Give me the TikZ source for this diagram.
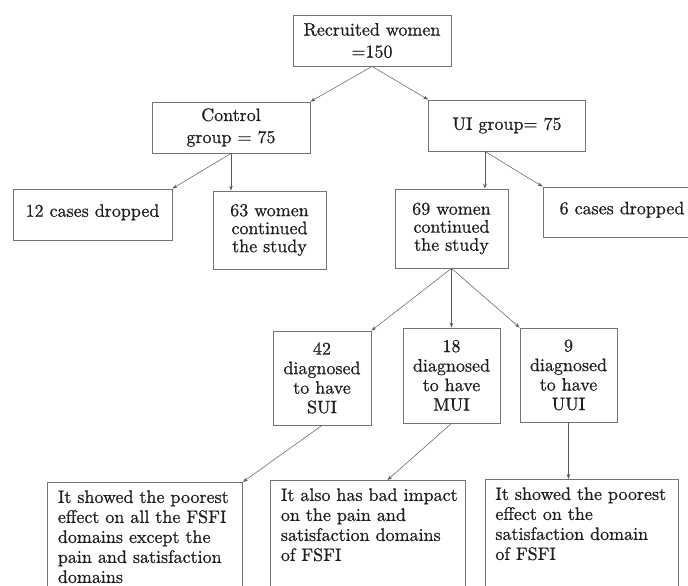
\documentclass[tikz,border=0pt]{standalone}
\usepackage{fontspec}
\setmainfont{lmroman10-regular.otf}[FakeBold=0.8]
\usetikzlibrary{arrows.meta,calc}
\hyphenpenalty=10000
\exhyphenpenalty=10000
\hfuzz=20pt
\definecolor{boxline}{gray}{0.45}
\definecolor{arrowline}{gray}{0.35}
\definecolor{txt}{gray}{0.12}
\tikzset{
  box/.style={draw=boxline, line width=0.8pt, inner sep=0pt, align=center, text=txt,
    font=\fontsize{18}{22}\selectfont},
  tight/.style={font=\fontsize{18}{18}\selectfont},
  mid/.style={font=\fontsize{18}{19.5}\selectfont},
  note/.style={draw=boxline, line width=0.8pt, anchor=north west, align=left, text=txt,
    font=\fontsize{18}{20}\selectfont, inner xsep=10.5pt, inner ysep=8pt, text depth=110pt},
  link/.style={draw=arrowline, line width=0.5pt, -{Stealth[length=5pt,width=3.5pt]}},
}
\begin{document}
\begin{tikzpicture}[x=1pt,y=-1pt]
\useasboundingbox (0,0) rectangle (688,586);
\clip (0,0) rectangle (688,586);

\node[box, minimum width=158pt, minimum height=51pt] (rec) at (372,40.5) {Recruited women\\=150};
\node[box, minimum width=158pt, minimum height=51pt] (ctrl) at (231,127.5) {Control\\group = 75};
\node[box, minimum width=157pt, minimum height=51pt] (ui) at (507,125.5) {UI group= 75};

\node[box, minimum width=159pt, minimum height=51pt, text depth=8pt] (c12) at (92.5,214.5) {12 cases dropped};
\node[box, tight, minimum width=113pt, minimum height=78pt] (w63) at (269.5,230) {63 women\\continued\\the study};
\node[box, tight, minimum width=113pt, minimum height=79pt] (w69) at (451.5,228.5) {69 women\\continued\\the study};
\node[box, minimum width=158pt, minimum height=50pt, text depth=8pt] (c6) at (622,212) {6 cases dropped};

\node[box, mid, minimum width=98pt, minimum height=94pt] (sui) at (322,378) {42\\diagnosed\\to have\\SUI};
\node[box, mid, minimum width=97pt, minimum height=95pt] (mui) at (451.5,375.5) {18\\diagnosed\\to have\\MUI};
\node[box, mid, minimum width=97pt, minimum height=94pt] (uui) at (568.5,375) {9\\diagnosed\\to have\\UUI};

\node[note, text width=174pt] (ba) at (47,482) {It showed the poorest\\effect on all the FSFI\\domains except the\\pain and satisfaction\\domains};
\node[note, text width=174pt] (bb) at (270,480) {\mbox{It also has bad impact}\\on the pain and\\satisfaction domains\\of FSFI};
\node[note, text width=173pt, inner xsep=10pt] (bc) at (485,479) {It showed the poorest\\effect on the\\satisfaction domain\\of FSFI};

\coordinate (uis) at ($(ui.south west)!0.36!(ui.south east)$);
\coordinate (bbin) at ($(bb.north west)!0.6!(bb.north east)$);

\draw[link] (rec.south) -- (ctrl.north east);
\draw[link] (rec.south) -- (ui.north west);
\draw[link] (ctrl.south) -- (c12.north east);
\draw[link] (ctrl.south) -- (ctrl.south |- w63.north);
\draw[link] (uis) -- (uis |- w69.north);
\draw[link] (uis) -- (c6.north west);
\draw[link] (w69.south) -- (sui.north east);
\draw[link] (w69.south) -- (mui.north);
\draw[link] (w69.south) -- (uui.north west);
\draw[link] (sui.south) -- (ba.north east);
\draw[link] (mui.south) -- (bbin);
\draw[link] (uui.south) -- (uui.south |- bc.north);
\end{tikzpicture}
\end{document}
